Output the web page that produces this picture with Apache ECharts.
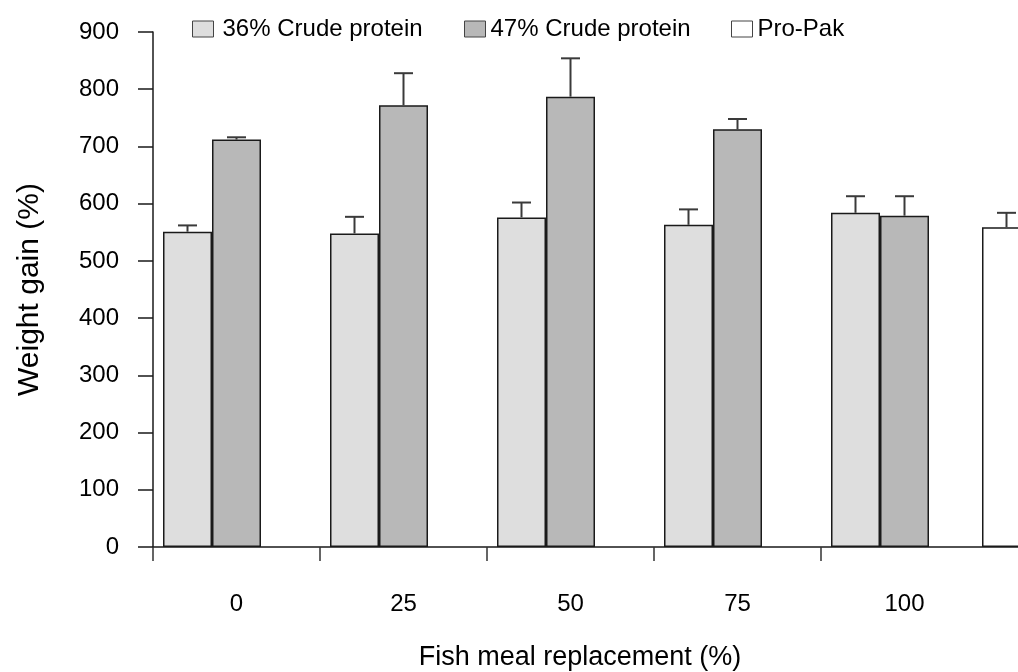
<!DOCTYPE html>
<html>
<head>
<meta charset="utf-8">
<script src="https://cdn.jsdelivr.net/npm/echarts@6/dist/echarts.min.js"></script>
<style>
  html, body { margin: 0; padding: 0; background: #fff; }
  #chart { width: 1018px; height: 672px; }
</style>
</head>
<body>
<div id="chart"></div>
<script>
const categories = ['0', '25', '50', '75', '100']
const yTicks = [0, 900, 100]

const crude36 = [551, 548, 576, 563, 584]
const crude36Err = [11, 29, 26, 27, 29]
const crude47 = [712, 772, 787, 730, 579]
const crude47Err = [4, 56, 67, 18, 34]
const proPak = [559]
const proPakErr = [25]

const font = 'Liberation Sans, Arial, sans-serif'
const barBorder = { borderColor: '#1a1a1a', borderWidth: 1.5 }

// error bar drawn upward from the bar top
function errorBars(values, errs, offset, axisIndex) {
  return {
    type: 'custom',
    xAxisIndex: axisIndex,
    yAxisIndex: axisIndex,
    silent: true,
    z: 5,
    data: values.map((v, i) => [i, v, errs[i]]),
    renderItem: (params, api) => {
      const x = api.coord([api.value(0), 0])[0] + offset
      const yBase = api.coord([api.value(0), api.value(1)])[1]
      const yTop = api.coord([api.value(0), api.value(1) + api.value(2)])[1]
      const style = { stroke: '#3a3a3a', lineWidth: 2 }
      return {
        type: 'group',
        children: [
          { type: 'line', shape: { x1: x, y1: yBase, x2: x, y2: yTop }, style },
          { type: 'line', shape: { x1: x - 9.5, y1: yTop, x2: x + 9.5, y2: yTop }, style },
        ],
      }
    },
  }
}

const chart = echarts.init(document.getElementById('chart'))

const legendBase = {
  top: 17,
  padding: 0,
  icon: 'rect',
  itemWidth: 21,
  itemHeight: 16,
  textStyle: { fontSize: 24, color: '#000', fontFamily: font },
  itemStyle: { borderColor: '#444', borderWidth: 1 },
}

const option = {
  animation: false,
  backgroundColor: '#fff',
  legend: [
    Object.assign({}, legendBase, { left: 192, data: ['36% Crude protein'], textStyle: Object.assign({}, legendBase.textStyle, { padding: [0, 0, 0, 4] }) }),
    Object.assign({}, legendBase, { left: 464, data: ['47% Crude protein'] }),
    Object.assign({}, legendBase, { left: 731, data: ['Pro-Pak'] }),
  ],
  grid: [
    { left: 153, top: 32, bottom: 125, width: 1002, outerBoundsMode: 'none' },
    { left: 958, top: 32, bottom: 125, width: 97, outerBoundsMode: 'none' },
  ],
  xAxis: [
    {
      type: 'category',
      gridIndex: 0,
      data: categories.concat(['']),
      axisLine: { lineStyle: { color: '#1a1a1a', width: 1.5 } },
      axisTick: { show: true, length: 14, interval: (i) => i <= 4, lineStyle: { color: '#333', width: 1.5 } },
      axisLabel: { fontSize: 24, color: '#000', fontFamily: font, margin: 45, interval: 0 },
    },
    { type: 'category', gridIndex: 1, data: ['Pro-Pak'], show: false },
  ],
  yAxis: [
    {
      type: 'value',
      gridIndex: 0,
      min: yTicks[0],
      max: yTicks[1],
      interval: yTicks[2],
      name: 'Weight gain (%)',
      nameLocation: 'middle',
      nameGap: 108,
      nameTextStyle: { fontSize: 30, color: '#000', fontFamily: font },
      splitLine: { show: false },
      axisLine: { show: true, lineStyle: { color: '#1a1a1a', width: 1.5 } },
      axisTick: { show: true, length: 15, lineStyle: { color: '#1a1a1a', width: 1.5 } },
      axisLabel: { fontSize: 24, color: '#000', fontFamily: font, margin: 34 },
    },
    { type: 'value', gridIndex: 1, min: yTicks[0], max: yTicks[1], show: false },
  ],
  graphic: [
    {
      type: 'text',
      x: 580,
      y: 658,
      style: {
        text: 'Fish meal replacement (%)',
        fontSize: 27,
        fontFamily: font,
        fill: '#000',
        align: 'center',
        verticalAlign: 'middle',
      },
    },
  ],
  series: [
    {
      name: '36% Crude protein',
      type: 'bar',
      xAxisIndex: 0,
      yAxisIndex: 0,
      barWidth: 49,
      barGap: 0,
      data: crude36,
      itemStyle: Object.assign({ color: '#dedede' }, barBorder),
    },
    {
      name: '47% Crude protein',
      type: 'bar',
      xAxisIndex: 0,
      yAxisIndex: 0,
      barWidth: 49,
      barGap: 0,
      data: crude47,
      itemStyle: Object.assign({ color: '#b8b8b8' }, barBorder),
    },
    {
      // keeps the third slot free in each group
      name: 'Pro-Pak',
      type: 'bar',
      xAxisIndex: 0,
      yAxisIndex: 0,
      barWidth: 49,
      barGap: 0,
      data: [],
      itemStyle: Object.assign({ color: '#ffffff' }, barBorder),
    },
    {
      name: 'Pro-Pak',
      type: 'bar',
      xAxisIndex: 1,
      yAxisIndex: 1,
      barWidth: 49,
      data: proPak,
      itemStyle: Object.assign({ color: '#ffffff' }, barBorder),
    },
    errorBars(crude36, crude36Err, -49, 0),
    errorBars(crude47, crude47Err, 0, 0),
    errorBars(proPak, proPakErr, 0, 1),
  ],
}
chart.setOption(option)
</script>
</body>
</html>
